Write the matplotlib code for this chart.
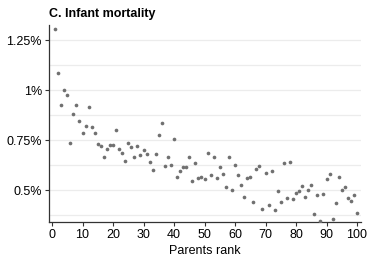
import matplotlib.pyplot as plt
from matplotlib.ticker import FixedLocator, FuncFormatter

plt.rcParams['font.family'] = ['Liberation Sans', 'DejaVu Sans']

# parents rank 1..100 and infant mortality (%)
rank = list(range(1, 101))
mortality = [
    1.306, 1.086, 0.927, 1.000, 0.973, 0.733, 0.880, 0.927, 0.847, 0.787,
    0.820, 0.913, 0.813, 0.787, 0.728, 0.722, 0.667, 0.707, 0.727, 0.727,
    0.800, 0.707, 0.687, 0.647, 0.733, 0.713, 0.667, 0.720, 0.673, 0.700,
    0.680, 0.640, 0.600, 0.680, 0.773, 0.833, 0.620, 0.667, 0.627, 0.753,
    0.567, 0.593, 0.613, 0.613, 0.667, 0.547, 0.633, 0.560, 0.567, 0.553,
    0.687, 0.573, 0.667, 0.560, 0.613, 0.580, 0.513, 0.667, 0.500, 0.627,
    0.573, 0.527, 0.467, 0.560, 0.567, 0.440, 0.607, 0.620, 0.407, 0.587,
    0.427, 0.593, 0.400, 0.493, 0.440, 0.633, 0.460, 0.640, 0.453, 0.487,
    0.493, 0.520, 0.467, 0.500, 0.527, 0.380, 0.473, 0.347, 0.480, 0.553,
    0.580, 0.353, 0.433, 0.567, 0.500, 0.513, 0.460, 0.447, 0.473, 0.387,
]
x_ticks = list(range(0, 101, 10))
y_ticks = [0.5, 0.75, 1.0, 1.25]
y_grid = [0.375, 0.625, 0.875, 1.125]


def percent_label(value, pos):
    return '%g%%' % value


fig = plt.figure(figsize=(3.7, 2.56), dpi=100)
ax = fig.add_axes([0.1324, 0.1328, 0.8433, 0.769])

ax.scatter(rank, mortality, s=7, color='#707070', linewidths=0, zorder=3)

ax.set_xlim(-1, 101.3)
ax.set_ylim(0.34, 1.325)
ax.set_xticks(x_ticks)
ax.yaxis.set_major_locator(FixedLocator(y_ticks))
ax.yaxis.set_minor_locator(FixedLocator(y_grid))
ax.yaxis.set_major_formatter(FuncFormatter(percent_label))

ax.grid(axis='y', which='both', color='#ececec', linewidth=0.9, zorder=0)
ax.tick_params(axis='both', which='major', labelsize=9, length=3,
               width=0.8, color='#333333', pad=2)
ax.tick_params(axis='y', which='minor', length=0)

for side in ['top', 'right']:
    ax.spines[side].set_visible(False)
for side in ['left', 'bottom']:
    ax.spines[side].set_color('#333333')
    ax.spines[side].set_linewidth(0.9)

ax.set_xlabel('Parents rank', fontsize=9, labelpad=3)
ax.set_title('C. Infant mortality', fontsize=9, fontweight='bold',
             loc='left', pad=6)

fig.savefig('out.png', dpi=100, facecolor='white')
